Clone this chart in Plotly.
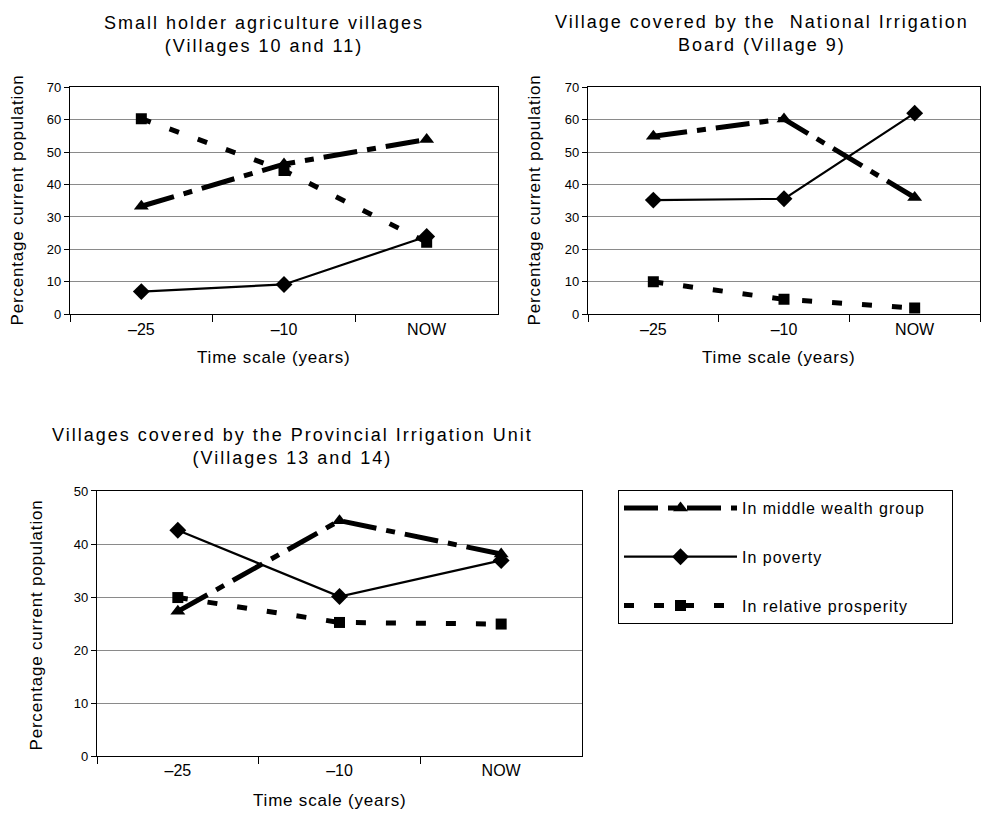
import plotly.graph_objects as go

categories = ["–25", "–10", "NOW"]
series_names = ["In middle wealth group", "In poverty", "In relative prosperity"]

c1_middle = [33.3, 46.3, 53.9]
c1_poverty = [7.0, 9.2, 24.0]
c1_prosperity = [60.3, 44.3, 22.2]

c2_middle = [54.9, 60.2, 36.0]
c2_poverty = [35.2, 35.6, 62.0]
c2_prosperity = [10.0, 4.6, 1.9]

c3_middle = [27.3, 44.4, 38.1]
c3_poverty = [42.6, 30.1, 36.9]
c3_prosperity = [29.9, 25.2, 24.9]

titles = [
    "Small holder agriculture villages<br>(Villages 10 and 11)",
    "Village covered by the  National Irrigation<br>Board (Village 9)",
    "Villages covered by the Provincial Irrigation Unit<br>(Villages 13 and 14)",
]
x_title = "Time scale (years)"
y_title = "Percentage current population"

FONT = "Liberation Sans, Arial, sans-serif"
W, H = 986, 821

def sp(text, ls):
    return "<br>".join(f'<span style="letter-spacing:{ls}px">{t}</span>' for t in text.split("<br>"))

styles = [
    dict(line=dict(color="black", width=5, dash="34px,10px,9px,10px"),
         marker=dict(symbol="triangle-up", size=13, color="black")),
    dict(line=dict(color="black", width=2.2),
         marker=dict(symbol="diamond", size=13, color="black")),
    dict(line=dict(color="black", width=5, dash="10px,20px"),
         marker=dict(symbol="square", size=11, color="black")),
]
legend_pad = ["\u00a0" * 4, "", ""]

fig = go.Figure()
charts = [
    (c1_middle, c1_poverty, c1_prosperity),
    (c2_middle, c2_poverty, c2_prosperity),
    (c3_middle, c3_poverty, c3_prosperity),
]
for ci, data in enumerate(charts):
    ax = "" if ci == 0 else str(ci + 1)
    for si, vals in enumerate(data):
        fig.add_trace(go.Scatter(
            x=categories, y=vals, mode="lines+markers",
            name=sp(series_names[si] + legend_pad[si], 1),
            legendgroup=f"g{si}", showlegend=(ci == 0),
            xaxis="x" + ax, yaxis="y" + ax,
            **styles[si]))

# pixel boxes of plot areas: (left, right, top, bottom)
boxes = [(70, 498, 81.7, 313), (588, 980, 81.7, 313), (97, 582, 493, 763)]
yranges = [[0, 70], [0, 70], [0, 50]]

def px(x):
    return x / W

def py(y):
    return 1 - y / H

for ci, (l, r, t, b) in enumerate(boxes):
    ax = "" if ci == 0 else str(ci + 1)
    xa = dict(domain=[px(l), px(r)], type="category", range=[-0.5, 2.5],
              tickson="boundaries", ticks="outside", ticklen=7, tickcolor="black",
              showline=True, linecolor="black", linewidth=1.3, mirror=True,
              showgrid=False, tickfont=dict(family=FONT, size=16, color="black"),
              anchor="y" + ax, fixedrange=True)
    ya = dict(domain=[py(b), py(t)], range=yranges[ci], dtick=10,
              ticks="outside", ticklen=5, tickcolor="black",
              showline=True, linecolor="black", linewidth=1.3, mirror=True,
              showgrid=True, gridcolor="#8a8a8a", gridwidth=1, zeroline=False,
              tickfont=dict(family=FONT, size=13, color="black"),
              anchor="x" + ax, fixedrange=True)
    fig.layout["xaxis" + ax] = xa
    fig.layout["yaxis" + ax] = ya

annotations = []
title_pos = [(264, 28), (762, 27), (292, 448)]
for ci, (tx, ty) in enumerate(title_pos):
    annotations.append(dict(text=sp(titles[ci], 2), x=px(tx), y=py(ty), xref="paper", yref="paper",
                            xanchor="center", yanchor="middle", showarrow=False,
                            font=dict(family=FONT, size=18, color="black")))
xt_pos = [(274, 357), (779, 357), (330, 808)]
yt_pos = [(17, 197), (534, 197), (36, 630)]
for ci in range(3):
    annotations.append(dict(text=sp(x_title, 0.8), x=px(xt_pos[ci][0]), y=py(xt_pos[ci][1]),
                            xref="paper", yref="paper", xanchor="center", yanchor="middle",
                            showarrow=False, font=dict(family=FONT, size=17, color="black")))
    annotations.append(dict(text=sp(y_title, 0.8), x=px(yt_pos[ci][0]), y=py(yt_pos[ci][1]),
                            xref="paper", yref="paper", xanchor="center", yanchor="middle",
                            textangle=-90, showarrow=False,
                            font=dict(family=FONT, size=17, color="black")))

fig.update_layout(
    width=W, height=H,
    margin=dict(l=0, r=0, t=0, b=0),
    paper_bgcolor="white", plot_bgcolor="white",
    annotations=annotations,
    legend=dict(x=px(618), y=py(492), xanchor="left", yanchor="top",
                bordercolor="black", borderwidth=1, bgcolor="white",
                font=dict(family=FONT, size=16, color="black"),
                tracegroupgap=25, itemwidth=113, traceorder="grouped"),
    showlegend=True,
)

fig.write_html("out.html", config={"displayModeBar": False},
               post_script="document.body.style.margin='0';")
